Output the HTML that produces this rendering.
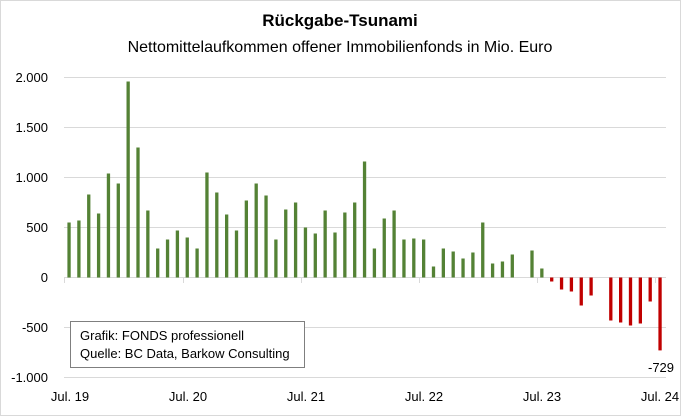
<!DOCTYPE html>
<html><head><meta charset="utf-8"><style>
body{margin:0;background:#fff}
svg{display:block;font-family:"Liberation Sans",sans-serif}
</style></head><body>
<svg width="681" height="416" viewBox="0 0 681 416">
<rect x="0.5" y="0.5" width="680" height="415" fill="#fff" stroke="#d9d9d9"/>
<text x="340" y="26" text-anchor="middle" font-size="17" font-weight="bold" fill="#000">Rückgabe-Tsunami</text>
<text x="340" y="52" text-anchor="middle" font-size="16" fill="#000">Nettomittelaufkommen offener Immobilienfonds in Mio. Euro</text>
<g stroke="#d9d9d9" stroke-width="1">
<line x1="64" y1="77.5" x2="666" y2="77.5"/>
<line x1="64" y1="127.5" x2="666" y2="127.5"/>
<line x1="64" y1="177.5" x2="666" y2="177.5"/>
<line x1="64" y1="227.5" x2="666" y2="227.5"/>
<line x1="64" y1="327.5" x2="666" y2="327.5"/>
<line x1="64" y1="377.5" x2="666" y2="377.5"/>
<line x1="64" y1="277.5" x2="666" y2="277.5"/>
<line x1="64.5" y1="277" x2="64.5" y2="283"/>
<line x1="183.5" y1="277" x2="183.5" y2="283"/>
<line x1="301.5" y1="277" x2="301.5" y2="283"/>
<line x1="419.5" y1="277" x2="419.5" y2="283"/>
<line x1="537.5" y1="277" x2="537.5" y2="283"/>
<line x1="655.5" y1="277" x2="655.5" y2="283"/>
</g>
<g font-size="13" fill="#000" text-anchor="end">
<text x="48" y="82">2.000</text>
<text x="48" y="132">1.500</text>
<text x="48" y="182">1.000</text>
<text x="48" y="232">500</text>
<text x="48" y="282">0</text>
<text x="48" y="332">-500</text>
<text x="48" y="382">-1.000</text>
</g>
<g font-size="13" fill="#000" text-anchor="middle">
<text x="70" y="401">Jul. 19</text>
<text x="188" y="401">Jul. 20</text>
<text x="306" y="401">Jul. 21</text>
<text x="424" y="401">Jul. 22</text>
<text x="542" y="401">Jul. 23</text>
<text x="660" y="401">Jul. 24</text>
<text x="661" y="372">-729</text>
</g>
<g fill="#548235">
<rect x="67.4" y="222.5" width="3.3" height="55"/>
<rect x="77.25" y="220.5" width="3.3" height="57"/>
<rect x="87.1" y="194.5" width="3.3" height="83"/>
<rect x="96.95" y="213.5" width="3.3" height="64"/>
<rect x="106.8" y="173.5" width="3.3" height="104"/>
<rect x="116.65" y="183.5" width="3.3" height="94"/>
<rect x="126.5" y="81.5" width="3.3" height="196"/>
<rect x="136.35" y="147.5" width="3.3" height="130"/>
<rect x="146.2" y="210.5" width="3.3" height="67"/>
<rect x="156.05" y="248.5" width="3.3" height="29"/>
<rect x="165.9" y="239.5" width="3.3" height="38"/>
<rect x="175.75" y="230.5" width="3.3" height="47"/>
<rect x="185.6" y="237.5" width="3.3" height="40"/>
<rect x="195.45" y="248.5" width="3.3" height="29"/>
<rect x="205.3" y="172.5" width="3.3" height="105"/>
<rect x="215.15" y="192.5" width="3.3" height="85"/>
<rect x="225" y="214.5" width="3.3" height="63"/>
<rect x="234.85" y="230.5" width="3.3" height="47"/>
<rect x="244.7" y="200.5" width="3.3" height="77"/>
<rect x="254.55" y="183.5" width="3.3" height="94"/>
<rect x="264.4" y="195.5" width="3.3" height="82"/>
<rect x="274.25" y="239.5" width="3.3" height="38"/>
<rect x="284.1" y="209.5" width="3.3" height="68"/>
<rect x="293.95" y="202.5" width="3.3" height="75"/>
<rect x="303.8" y="227.5" width="3.3" height="50"/>
<rect x="313.65" y="233.5" width="3.3" height="44"/>
<rect x="323.5" y="210.5" width="3.3" height="67"/>
<rect x="333.35" y="232.5" width="3.3" height="45"/>
<rect x="343.2" y="212.5" width="3.3" height="65"/>
<rect x="353.05" y="202.5" width="3.3" height="75"/>
<rect x="362.9" y="161.5" width="3.3" height="116"/>
<rect x="372.75" y="248.5" width="3.3" height="29"/>
<rect x="382.6" y="218.5" width="3.3" height="59"/>
<rect x="392.45" y="210.5" width="3.3" height="67"/>
<rect x="402.3" y="239.5" width="3.3" height="38"/>
<rect x="412.15" y="238.5" width="3.3" height="39"/>
<rect x="422" y="239.5" width="3.3" height="38"/>
<rect x="431.85" y="266.5" width="3.3" height="11"/>
<rect x="441.7" y="248.5" width="3.3" height="29"/>
<rect x="451.55" y="251.5" width="3.3" height="26"/>
<rect x="461.4" y="258.5" width="3.3" height="19"/>
<rect x="471.25" y="252.5" width="3.3" height="25"/>
<rect x="481.1" y="222.5" width="3.3" height="55"/>
<rect x="490.95" y="263.5" width="3.3" height="14"/>
<rect x="500.8" y="261.5" width="3.3" height="16"/>
<rect x="510.65" y="254.5" width="3.3" height="23"/>
<rect x="530.35" y="250.5" width="3.3" height="27"/>
<rect x="540.2" y="268.5" width="3.3" height="9"/>
</g>
<g fill="#c00000">
<rect x="550.05" y="277.5" width="3.3" height="4"/>
<rect x="559.9" y="277.5" width="3.3" height="12"/>
<rect x="569.75" y="277.5" width="3.3" height="14"/>
<rect x="579.6" y="277.5" width="3.3" height="28"/>
<rect x="589.45" y="277.5" width="3.3" height="18"/>
<rect x="609.15" y="277.5" width="3.3" height="43"/>
<rect x="619" y="277.5" width="3.3" height="45"/>
<rect x="628.85" y="277.5" width="3.3" height="48"/>
<rect x="638.7" y="277.5" width="3.3" height="46"/>
<rect x="648.55" y="277.5" width="3.3" height="24"/>
<rect x="658.4" y="277.5" width="3.3" height="72.9"/>
</g>
<rect x="70.5" y="321.5" width="234" height="46" fill="#fff" stroke="#7f7f7f"/>
<text x="80" y="340" font-size="13">Grafik: FONDS professionell</text>
<text x="80" y="358" font-size="13">Quelle: BC Data, Barkow Consulting</text>
</svg>
</body></html>
